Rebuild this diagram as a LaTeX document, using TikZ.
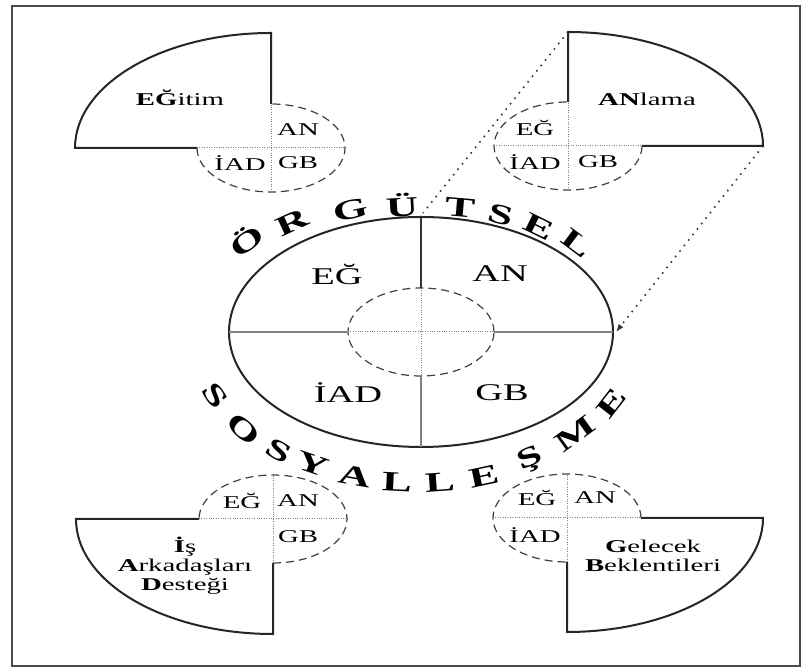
\documentclass[tikz,border=0pt]{standalone}
\usepackage{fontspec}
\setmainfont{Liberation Serif}[FakeStretch=1.6]
\newfontfamily\arcfont{Liberation Serif}[FakeStretch=1.6]
\usetikzlibrary{arrows.meta}

\begin{document}
\begin{tikzpicture}[x=0.5pt, y=0.5pt, >=Latex,
    lbl/.style={font=\fontsize{12}{12}\selectfont, inner sep=0pt},
    sm/.style={font=\fontsize{9}{9.5}\selectfont, inner sep=0pt, align=center},
    arcletter/.style={font=\arcfont\bfseries\fontsize{14}{14}\selectfont, inner sep=0pt},
    outline/.style={line width=1pt, black!85},
    ring/.style={dash pattern=on 4pt off 2.5pt, line width=0.6pt, black!75},
    axis/.style={dash pattern=on 0.5pt off 0.7pt, line width=0.5pt, gray},
    link/.style={dash pattern=on 0.8pt off 2.7pt, line width=0.8pt, black!80}]
    	\useasboundingbox (0,0) rectangle (812,668);
    	% frame
    	\draw[line width=0.9pt, black!70] (12,2) rectangle (800,662);

    	% central chart
    	\coordinate (C) at (421,336);
    	\draw[outline] (C) ellipse [x radius=192, y radius=115];
    	\draw[ring] (C) ellipse [x radius=73, y radius=44];
    	\draw[line width=0.8pt, black!80] (421,451) -- (421,380);
    	\draw[line width=0.8pt, gray] (421,292) -- (421,221);
    	\draw[line width=0.6pt, gray] (229,336) -- (348,336);
    	\draw[line width=0.6pt, gray] (494,336) -- (613,336);
    	\draw[axis] (421,380) -- (421,292);
    	\draw[axis] (348,336) -- (494,336);
    	\node[lbl] (cEG) at (337,394) {EĞ};
    	\node[lbl] (cAN) at (500,394) {AN};
    	\node[lbl] (cIAD) at (348,275) {İAD};
    	\node[lbl] (cGB) at (502,275) {GB};

    	% arched titles
    	\foreach \ch/\px/\py/\rot [count=\i] in {Ö/246/428/36, R/292/446/25, G/351/458/12, Ü/402/463/3,
    	    T/460/460/-5, S/501/453/-15, E/539/441/-26, L/577/425/-37}
    	    \node[arcletter, rotate=\rot] (top\i) at (\px,\py) {\ch};
    	\foreach \ch/\px/\py/\rot [count=\i] in {S/215/273/-55, O/244/239/-42, S/279/217/-30, Y/313/204/-19,
    	    A/355/192/-10, L/397/186/-3, L/440/186/4, E/484/192/12, Ş/530/208/23, M/575/234/36, E/611/265/52}
    	    \node[arcletter, rotate=\rot] (bot\i) at (\px,\py) {\ch};

    	% top left: Egitim
    	\draw[outline] (271,564) -- (271,635) arc[start angle=90, end angle=180, x radius=196, y radius=115] -- (197,520);
    	\draw[ring] (197,520) arc[start angle=180, end angle=450, x radius=74, y radius=44];
    	\draw[axis] (197,520) -- (345,520);
    	\draw[axis] (271,476) -- (271,564);
    	\node[sm] (tlname) at (180,570) {\textbf{EĞ}itim};
    	\node[sm] (tlAN) at (298,538) {AN};
    	\node[sm] (tlIAD) at (240,505) {İAD};
    	\node[sm] (tlGB) at (298,505) {GB};

    	% top right: Anlama
    	\coordinate (trtop) at (568,636);
    	\coordinate (trright) at (763,522);
    	\draw[outline] (568,566) -- (trtop) arc[start angle=90, end angle=0, x radius=195, y radius=114] -- (642,522);
    	\draw[ring] (642,522) arc[start angle=0, end angle=-270, x radius=74, y radius=44];
    	\draw[axis] (494,522) -- (642,522);
    	\draw[axis] (568,478) -- (568,566);
    	\node[sm] (trname) at (647,569) {\textbf{AN}lama};
    	\node[sm] (trEG) at (535,540) {EĞ};
    	\node[sm] (trIAD) at (535,506) {İAD};
    	\node[sm] (trGB) at (598,506) {GB};

    	% bottom left: Is Arkadaslari Destegi
    	\draw[outline] (199,149) -- (76,149) arc[start angle=180, end angle=270, x radius=197, y radius=115] -- (273,105);
    	\draw[ring] (273,105) arc[start angle=-90, end angle=180, x radius=74, y radius=44];
    	\draw[axis] (199,149) -- (347,149);
    	\draw[axis] (273,105) -- (273,193);
    	\node[sm] (blEG) at (242,167) {EĞ};
    	\node[sm] (blAN) at (298,167) {AN};
    	\node[sm] (blGB) at (298,131) {GB};
    	\node[sm] (blname) at (185,102) {\textbf{İ}ş\\\textbf{A}rkadaşları\\\textbf{D}esteği};

    	% bottom right: Gelecek Beklentileri
    	\draw[outline] (567,106) -- (567,36) arc[start angle=270, end angle=360, x radius=196, y radius=114] -- (641,150);
    	\draw[ring] (641,150) arc[start angle=0, end angle=270, x radius=74, y radius=44];
    	\draw[axis] (493,150) -- (641,150);
    	\draw[axis] (567,106) -- (567,194);
    	\node[sm] (brEG) at (537,170) {EĞ};
    	\node[sm] (brAN) at (595,170) {AN};
    	\node[sm] (brIAD) at (535,133) {İAD};
    	\node[sm] (brname) at (653,112) {\textbf{G}elecek\\\textbf{B}eklentileri};

    	% projection of the top right quarter
    	\coordinate (maintop) at (423,455);
    	\coordinate (mainright) at (616,336);
    	\draw[link] (trtop) -- (maintop);
    	\draw[link, -{Latex[length=4pt, width=3pt]}] (trright) -- (mainright);
    \end{tikzpicture}
\end{document}
